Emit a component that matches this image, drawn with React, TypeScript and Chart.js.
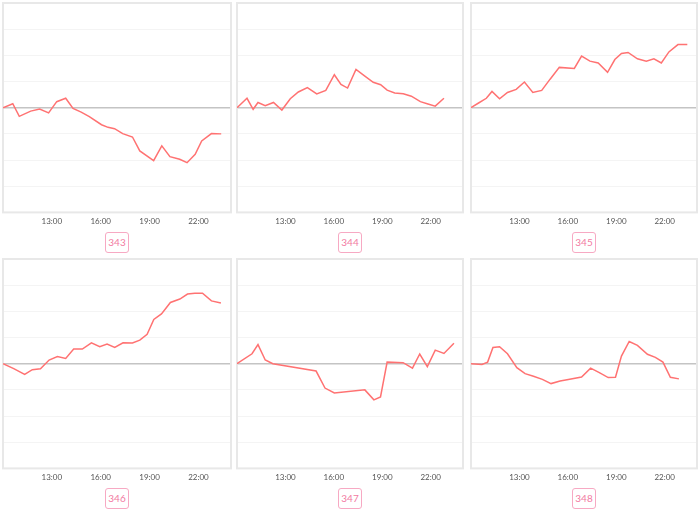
import React, { useEffect, useRef } from "react";
import Chart from "chart.js/auto";

const TICK_HOURS = [13, 16, 19, 22];
const X_MIN = 10;
const X_MAX = 24;
const Y_MIN = -4;
const Y_MAX = 4;

const labels = ["343", "344", "345", "346", "347", "348"];

const times343 = [10.0, 10.6, 11.0, 11.7, 12.25, 12.8, 13.3, 13.85, 14.3, 14.8, 15.3, 16.05, 16.45, 16.85, 17.35, 17.95, 18.4, 19.25, 19.75, 20.25, 20.85, 21.3, 21.8, 22.2, 22.8, 23.4];
const values343 = [0, 0.15, -0.33, -0.13, -0.05, -0.2, 0.23, 0.36, -0.03, -0.17, -0.34, -0.65, -0.75, -0.8, -0.99, -1.12, -1.65, -2.02, -1.46, -1.87, -1.97, -2.1, -1.78, -1.27, -0.99, -1.0];

const times344 = [10.0, 10.62, 11.0, 11.3, 11.75, 12.26, 12.78, 13.3, 13.8, 14.36, 14.94, 15.5, 16.03, 16.44, 16.85, 17.37, 17.92, 18.44, 18.9, 19.3, 19.77, 20.3, 20.8, 21.36, 21.83, 22.28, 22.82];
const values344 = [0, 0.36, -0.06, 0.2, 0.08, 0.2, -0.09, 0.34, 0.6, 0.77, 0.53, 0.66, 1.26, 0.89, 0.75, 1.46, 1.21, 0.97, 0.88, 0.67, 0.56, 0.53, 0.44, 0.23, 0.14, 0.06, 0.36];

const times345 = [10.0, 10.47, 10.95, 11.3, 11.77, 12.26, 12.8, 13.31, 13.83, 14.38, 14.9, 15.47, 16.4, 16.85, 17.37, 17.88, 18.46, 18.91, 19.32, 19.73, 20.31, 20.86, 21.33, 21.79, 22.26, 22.82, 23.4];
const values345 = [0, 0.18, 0.36, 0.62, 0.34, 0.58, 0.7, 0.98, 0.58, 0.66, 1.09, 1.54, 1.5, 1.97, 1.78, 1.71, 1.35, 1.84, 2.07, 2.11, 1.87, 1.78, 1.87, 1.71, 2.13, 2.41, 2.41];

const times346 = [10.0, 10.66, 11.33, 11.8, 12.3, 12.83, 13.34, 13.85, 14.34, 14.87, 15.43, 15.94, 16.39, 16.86, 17.37, 17.95, 18.4, 18.85, 19.26, 19.73, 20.28, 20.86, 21.33, 21.78, 22.25, 22.8, 23.38];
const values346 = [0, -0.19, -0.41, -0.23, -0.19, 0.14, 0.27, 0.2, 0.56, 0.56, 0.8, 0.65, 0.75, 0.62, 0.8, 0.79, 0.9, 1.12, 1.69, 1.9, 2.34, 2.47, 2.66, 2.69, 2.69, 2.4, 2.32];

const times347 = [10.0, 10.93, 11.3, 11.75, 12.22, 14.9, 15.45, 16.03, 17.92, 18.48, 18.89, 19.3, 20.29, 20.87, 21.32, 21.79, 22.28, 22.82, 23.44];
const values347 = [0, 0.38, 0.73, 0.14, 0, -0.28, -0.93, -1.12, -1.0, -1.38, -1.27, 0.06, 0.04, -0.17, 0.37, -0.11, 0.52, 0.39, 0.78];

const times348 = [10.0, 10.68, 11.03, 11.36, 11.77, 12.26, 12.84, 13.35, 13.87, 14.42, 14.96, 15.52, 16.03, 16.85, 17.41, 17.95, 18.5, 18.95, 19.32, 19.8, 20.31, 20.93, 21.42, 21.89, 22.35, 22.88];
const values348 = [0, -0.03, 0.06, 0.62, 0.65, 0.38, -0.15, -0.38, -0.48, -0.6, -0.76, -0.66, -0.6, -0.51, -0.17, -0.34, -0.53, -0.52, 0.29, 0.85, 0.7, 0.36, 0.24, 0.06, -0.52, -0.58];

const seriesTimes = [times343, times344, times345, times346, times347, times348];
const seriesValues = [values343, values344, values345, values346, values347, values348];

const COL_LEFT = [1, 235, 469];
const COL_WIDTH = [232, 230, 230];
const ROW_TOP = [1, 257];
const CANVAS_H = 229;

const frameBorder = {
  id: "frameBorder",
  beforeDatasetsDraw(chart: any) {
    const { ctx, chartArea } = chart;
    ctx.save();
    ctx.strokeStyle = "#e8e8e8";
    ctx.lineWidth = 2;
    ctx.strokeRect(chartArea.left, chartArea.top, chartArea.right - chartArea.left, chartArea.bottom - chartArea.top);
    ctx.restore();
  },
};

function Panel(props: { idx: number }) {
  const { idx } = props;
  const ref = useRef<HTMLCanvasElement | null>(null);
  const col = idx % 3;
  const row = Math.floor(idx / 3);
  const left = COL_LEFT[col];
  const width = COL_WIDTH[col];
  const top = ROW_TOP[row];

  useEffect(() => {
    if (!ref.current) return;
    const times = seriesTimes[idx];
    const vals = seriesValues[idx];
    const chart = new Chart(ref.current, {
      type: "line",
      data: {
        datasets: [
          {
            data: times.map((t, i) => ({ x: t, y: vals[i] })),
            borderColor: "#ff7272",
            borderWidth: 1.5,
            pointRadius: 0,
            tension: 0,
            fill: false,
          },
        ],
      },
      options: {
        animation: false,
        responsive: false,
        maintainAspectRatio: false,
        layout: { padding: { left: 2, right: 2, top: 2, bottom: 0 } },
        plugins: { legend: { display: false }, tooltip: { enabled: false }, title: { display: false } },
        scales: {
          x: {
            type: "linear",
            min: X_MIN,
            max: X_MAX,
            afterBuildTicks: (axis: any) => {
              axis.ticks = TICK_HOURS.map((v) => ({ value: v }));
            },
            grid: { display: false, drawTicks: false },
            border: { display: false },
            ticks: {
              autoSkip: false,
              maxRotation: 0,
              padding: 4,
              color: "#555",
              font: { size: 8, family: "Lato" },
              callback: (v: any) => `${v}:00`,
            },
          },
          y: {
            min: Y_MIN,
            max: Y_MAX,
            grid: {
              drawTicks: false,
              color: (c: any) => (c.tick && c.tick.value === 0 ? "#c4c4c4" : "#f4f4f4"),
              lineWidth: (c: any) => (c.tick && c.tick.value === 0 ? 1.5 : 1),
            },
            border: { display: false },
            ticks: { display: false, stepSize: 1 },
          },
        },
      },
      plugins: [frameBorder],
    });
    return () => chart.destroy();
  }, [idx]);

  return (
    <>
      <canvas
        ref={ref}
        width={width}
        height={CANVAS_H}
        style={{ position: "absolute", left, top, width, height: CANVAS_H }}
      />
      <div
        style={{
          position: "absolute",
          left: left + width / 2 - 12,
          top: top + 231,
          width: 22,
          height: 19,
          border: "1px solid #f7a9c3",
          borderRadius: 3,
          color: "#f27aa2",
          fontFamily: "Lato, sans-serif",
          fontSize: 10,
          lineHeight: "19px",
          textAlign: "center",
        }}
      >
        {labels[idx]}
      </div>
    </>
  );
}

export default function App() {
  return (
    <div style={{ position: "absolute", left: 0, top: 0, width: 700, height: 513, background: "#fff", overflow: "hidden" }}>
      {[0, 1, 2, 3, 4, 5].map((i) => (
        <Panel key={i} idx={i} />
      ))}
    </div>
  );
}
